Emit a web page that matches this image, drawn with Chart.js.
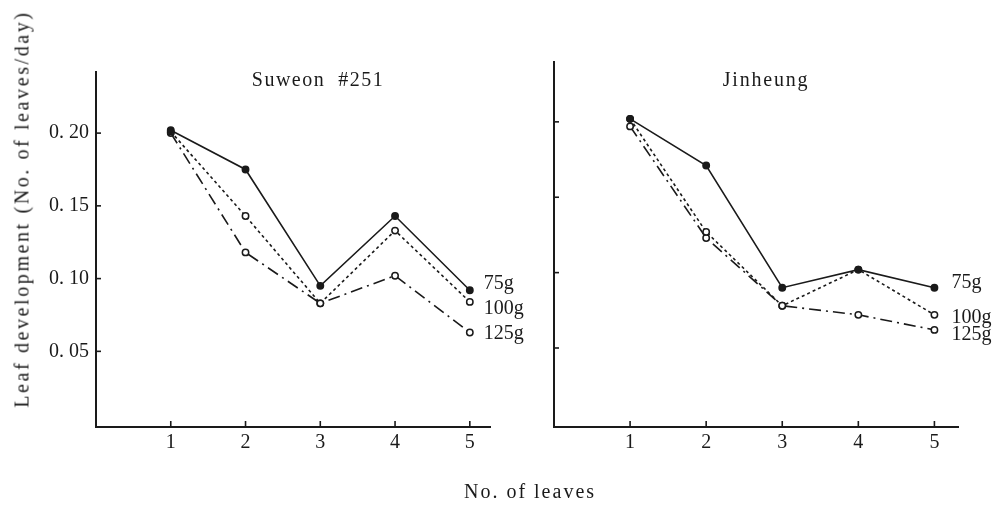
<!DOCTYPE html>
<html>
<head>
<meta charset="utf-8">
<script src="https://cdn.jsdelivr.net/npm/chart.js@4"></script>
<style>
  body { margin: 0; background: #fff; width: 997px; height: 507px; position: relative; overflow: hidden; font-family: "Liberation Serif", "DejaVu Serif", serif; color: #1a1a1a; }
  .box { position: absolute; top: 0; height: 507px; }
  .txt { position: absolute; font-size: 20px; white-space: nowrap; transform: translate(-50%, -50%); }
  .ytitle { transform: translate(-50%, -50%) rotate(-90deg); letter-spacing: 2.6px; }
</style>
</head>
<body>
<div class="box" style="left:0;width:530px"><canvas id="left"></canvas></div>
<div class="box" style="left:500px;width:497px"><canvas id="right"></canvas></div>
<div class="txt ytitle" style="left:22px;top:209px">Leaf development (No. of leaves/day)</div>
<div class="txt" style="left:318px;top:79px;letter-spacing:1.5px">Suweon &nbsp;#251</div>
<div class="txt" style="left:766px;top:79px;letter-spacing:1.8px">Jinheung</div>
<div class="txt" style="left:530px;top:491px;letter-spacing:2px">No. of leaves</div>
<script>
// leaf number on the x axis
const leaves = [1, 2, 3, 4, 5];
const seriesNames = ['75g', '100g', '125g'];
const yTicks = [0.05, 0.10, 0.15, 0.20];
const yTickLabels = ['0. 05', '0. 10', '0. 15', '0. 20'];

// Suweon #251
const suweon75 = [0.202, 0.175, 0.095, 0.143, 0.092];
const suweon100 = [0.201, 0.143, 0.083, 0.133, 0.084];
const suweon125 = [0.200, 0.118, 0.083, 0.102, 0.063];

// Jinheung
const jinheung75 = [0.202, 0.171, 0.090, 0.102, 0.090];
const jinheung100 = [0.202, 0.127, 0.078, 0.102, 0.072];
const jinheung125 = [0.197, 0.123, 0.078, 0.072, 0.062];

const ink = '#1a1a1a';
const styles = [
    { dash: [], fill: ink },
    { dash: [3, 3], fill: '#fff' },
    { dash: [12, 5, 2, 5], fill: '#fff' }
];

function makeSets(values, dys) {
    return values.map((vals, i) => ({
        label: seriesNames[i],
        data: leaves.map((x, j) => ({ x: x, y: vals[j] })),
        borderColor: ink,
        borderWidth: 1.6,
        borderDash: styles[i].dash,
        pointRadius: 3.2,
        pointBorderWidth: 1.5,
        pointBackgroundColor: styles[i].fill,
        pointBorderColor: ink,
        tension: 0,
        labelDy: dys[i]
    }));
}

// series names next to the last point, inward tick marks
const decor = {
    id: 'decor',
    afterDraw(chart, args, opts) {
        const ctx = chart.ctx;
        const xs = chart.scales.x, ys = chart.scales.y;
        ctx.save();
        ctx.strokeStyle = ink;
        ctx.lineWidth = 1.6;
        leaves.forEach(v => {
            const px = xs.getPixelForValue(v);
            ctx.beginPath();
            ctx.moveTo(px, chart.chartArea.bottom);
            ctx.lineTo(px, chart.chartArea.bottom - 6);
            ctx.stroke();
        });
        yTicks.forEach(v => {
            const py = ys.getPixelForValue(v);
            ctx.beginPath();
            ctx.moveTo(chart.chartArea.left, py);
            ctx.lineTo(chart.chartArea.left + 5, py);
            ctx.stroke();
        });
        ctx.fillStyle = ink;
        ctx.font = '20px "Liberation Serif", serif';
        ctx.textBaseline = 'middle';
        chart.data.datasets.forEach((ds, i) => {
            const pts = chart.getDatasetMeta(i).data;
            const last = pts[pts.length - 1];
            ctx.fillText(ds.label, last.x + opts.dx, last.y + ds.labelDy);
        });
        ctx.restore();
    }
};

function makeChart(id, datasets, opt) {
    return new Chart(document.getElementById(id), {
        type: 'line',
        data: { datasets: datasets },
        options: {
            responsive: true,
            maintainAspectRatio: false,
            animation: false,
            layout: { padding: { top: opt.top, right: opt.right, left: 0, bottom: 0 } },
            plugins: { legend: { display: false }, tooltip: { enabled: false }, decor: { dx: opt.dx } },
            scales: {
                x: {
                    type: 'linear',
                    min: 0,
                    max: opt.xMax,
                    afterBuildTicks: s => { s.ticks = leaves.map(v => ({ value: v })); },
                    afterFit: s => { s.height = 80; },
                    grid: { display: false, drawTicks: false },
                    border: { display: true, color: ink, width: 2 },
                    ticks: { color: ink, padding: 4, font: { family: 'Liberation Serif', size: 20 } }
                },
                y: {
                    min: opt.yMin,
                    max: opt.yMax,
                    afterBuildTicks: s => { s.ticks = yTicks.map(v => ({ value: v })); },
                    afterFit: s => { s.width = opt.yWidth; },
                    grid: { display: false, drawTicks: false },
                    border: { display: true, color: ink, width: 2 },
                    ticks: {
                        color: ink,
                        padding: 7,
                        font: { family: 'Liberation Serif', size: 20 },
                        callback: (v, i) => opt.showY ? yTickLabels[i] : ''
                    }
                }
            }
        },
        plugins: [decor]
    });
}

makeChart('left', makeSets([suweon75, suweon100, suweon125], [-6, 7, 1]),
    { top: 72, right: 40, xMax: 5.27, yMin: -0.002, yMax: 0.242, yWidth: 96, showY: true, dx: 14 });
makeChart('right', makeSets([jinheung75, jinheung100, jinheung125], [-5, 3, 5]),
    { top: 62, right: 39, xMax: 5.31, yMin: -0.0024, yMax: 0.2397, yWidth: 54, showY: false, dx: 17 });
</script>
</body>
</html>
